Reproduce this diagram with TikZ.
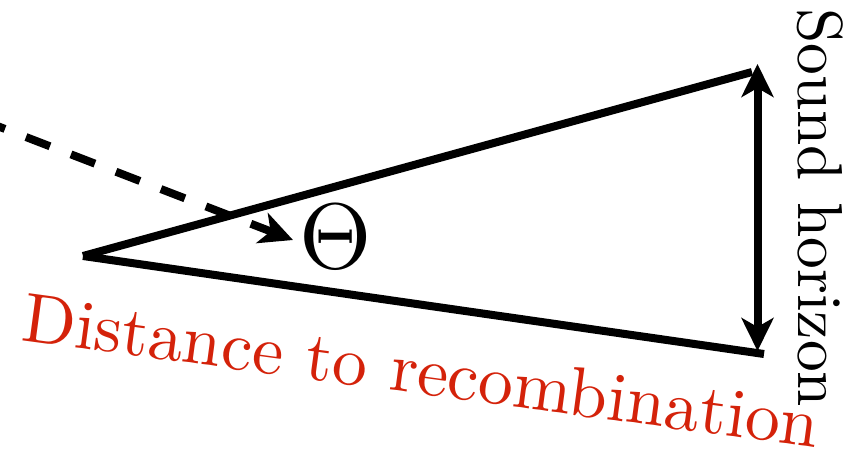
\documentclass[tikz,border=0pt]{standalone}
\usetikzlibrary{arrows.meta}
\definecolor{labelred}{RGB}{212,34,10}
\begin{document}
\begin{tikzpicture}[x=1pt,y=-1pt,
  edge/.style={line width=8pt, line cap=butt},
  tip/.style={-{Stealth[length=33pt,width=32pt,inset=9pt]}},
  lbl/.style={inner sep=0pt, font=\normalsize}]
\useasboundingbox (0,0) rectangle (854,453);
% corners
\coordinate (apex) at (83,256);
\coordinate (tr) at (752,72);
\coordinate (br) at (764,354);
\coordinate (htop) at (757.5,64);
\coordinate (hbot) at (757.5,351);
\coordinate (dstart) at (-19,119.7);
\coordinate (dtip) at (293,240);
% triangle
\draw[edge] (apex) -- (tr);
\draw[edge] (apex) -- (br);
% sound horizon arrow
\draw[edge, {Stealth[length=33pt,width=32pt,inset=9pt]}-{Stealth[length=33pt,width=32pt,inset=9pt]}] (htop) -- (hbot);
% theta
\node[lbl, scale=9.3] (theta) at (336,237) {$\Theta$};
% dashed arrow
\draw[edge, tip, dash pattern=on 25.7pt off 22.5pt] (dstart) -- (dtip);
% labels
\node[lbl, scale=6.35, rotate=-90, anchor=base west] (sh) at (798,7) {Sound horizon};
\node[lbl, scale=6.97, rotate=-7.7, anchor=base west, text=labelred] (dr) at (19,340) {Distance to recombination};
\end{tikzpicture}
\end{document}
